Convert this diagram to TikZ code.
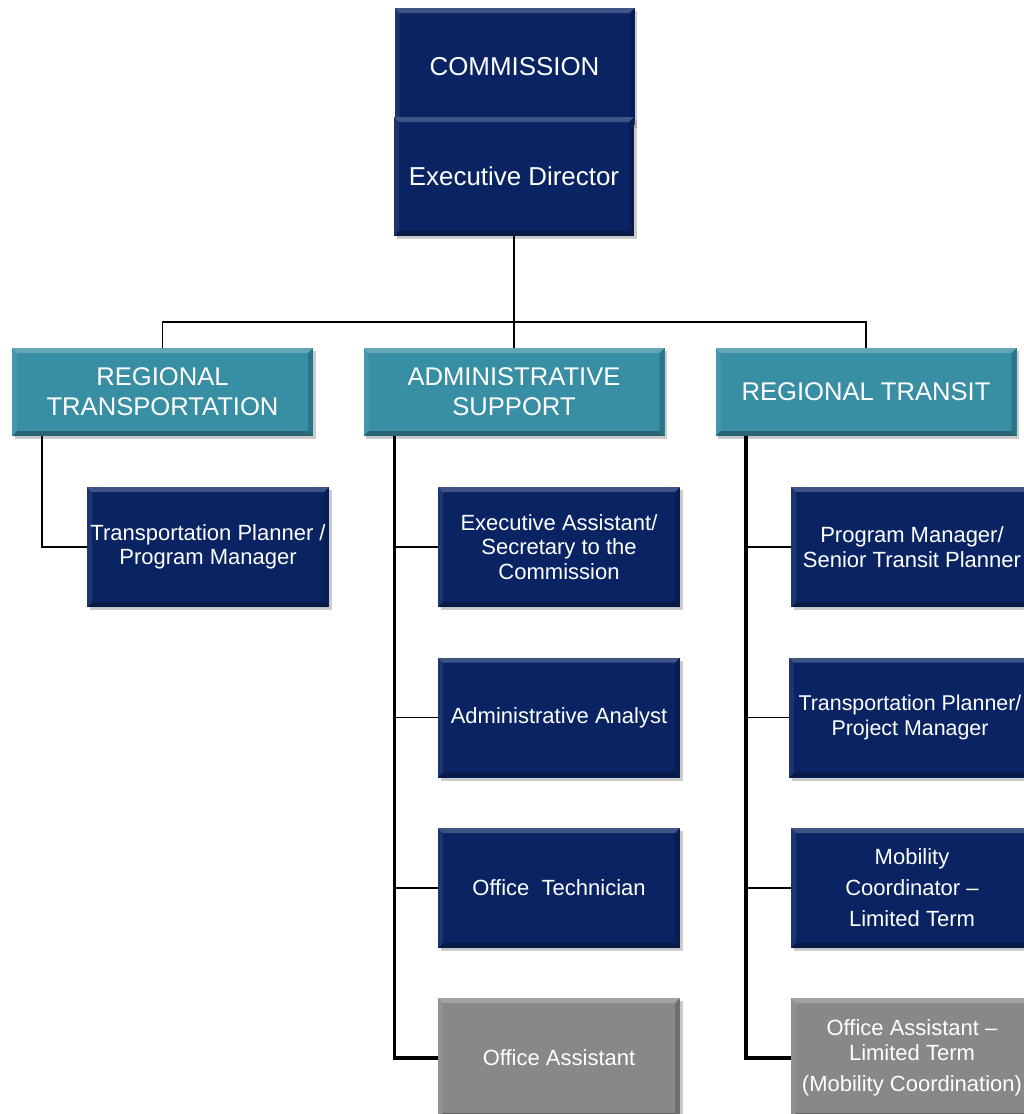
\documentclass[tikz,border=0pt]{standalone}
\usepackage{fontspec}
\setmainfont{Liberation Sans}
\usetikzlibrary{shadows}
\definecolor{navy}{RGB}{10,36,99}
\definecolor{teal2}{RGB}{56,142,163}
\definecolor{grey2}{RGB}{136,136,136}
\tikzset{
  bevel/.style={path picture={
    \fill[white,opacity=.22] (path picture bounding box.north west) -- (path picture bounding box.north east)
      -- ([shift={(-5pt,-5pt)}]path picture bounding box.north east) -- ([shift={(5pt,-5pt)}]path picture bounding box.north west) -- cycle;
    \fill[white,opacity=.08] (path picture bounding box.north west) -- ([shift={(5pt,-5pt)}]path picture bounding box.north west)
      -- ([shift={(5pt,5pt)}]path picture bounding box.south west) -- (path picture bounding box.south west) -- cycle;
    \fill[black,opacity=.18] (path picture bounding box.north east) -- ([shift={(-5pt,-5pt)}]path picture bounding box.north east)
      -- ([shift={(-5pt,5pt)}]path picture bounding box.south east) -- (path picture bounding box.south east) -- cycle;
    \fill[black,opacity=.28] (path picture bounding box.south west) -- (path picture bounding box.south east)
      -- ([shift={(-5pt,5pt)}]path picture bounding box.south east) -- ([shift={(5pt,5pt)}]path picture bounding box.south west) -- cycle;
  }},
  box/.style={text=white, align=center, inner sep=0pt, bevel,
    drop shadow={shadow xshift=2.5pt, shadow yshift=-3pt, opacity=0.4}},
  topbox/.style={box, fill=navy, minimum width=240pt, font=\fontsize{25.9}{30}\selectfont},
  headbox/.style={box, fill=teal2, minimum width=301pt, minimum height=88pt, font=\fontsize{25.6}{30}\selectfont},
  staffbox/.style={box, fill=navy, minimum width=242pt, minimum height=120pt, font=\fontsize{22}{24.5}\selectfont},
  vacbox/.style={staffbox, fill=grey2},
  thinline/.style={line width=1.8pt, black},
  thickline/.style={line width=3.6pt, black},
}
\begin{document}
\begin{tikzpicture}[x=1pt, y=-1pt]
\path[use as bounding box, fill=white] (0,0) rectangle (1024,1114);

% top
\node[topbox, minimum height=117pt] (comm) at (514.5,66.5) {COMMISSION};
\node[topbox, minimum height=119pt] (exec) at (514,176.5) {Executive Director};

% heads
\node[headbox] (rt) at (162.5,392) {REGIONAL\\TRANSPORTATION};
\node[headbox] (as) at (514,392) {ADMINISTRATIVE\\SUPPORT};
\node[headbox] (rtr) at (866,392) {REGIONAL TRANSIT};

% tree from executive director
\coordinate (bus) at (514,322);
\draw[thinline] (exec.south) -- (bus);
\draw[thinline] (rt.north) |- (bus) -| (rtr.north);
\draw[thinline] (bus) -- (as.north);

% regional transportation
\node[staffbox] (tp) at (208,547) {Transportation Planner /\\Program Manager};
\draw[thinline] ([xshift=30pt]rt.south west) |- (tp.west);

% administrative support
\node[staffbox] (ea) at (559,547) {Executive Assistant/\\Secretary to the\\Commission};
\node[staffbox] (aa) at (559,717.5) {Administrative Analyst};
\node[staffbox] (ot) at (559,888) {Office~ Technician};
\node[vacbox] (oa) at (559,1058) {Office Assistant};
\coordinate (asspine) at ([xshift=31pt]as.south west);
\draw[thickline] (asspine) |- (oa.west);
\draw[thinline] (ea.west) -- (ea.west -| asspine);
\draw[thinline] (aa.west) -- (aa.west -| asspine);
\draw[thinline] (ot.west) -- (ot.west -| asspine);

% regional transit
\node[staffbox] (pm) at (912,547) {Program Manager/\\Senior Transit Planner};
\node[staffbox, font=\fontsize{21.4}{24.5}\selectfont] (tpp) at (910,717.5) {Transportation Planner/\\Project Manager};
\node[staffbox, font=\fontsize{22}{31}\selectfont] (mc) at (912,888) {Mobility\\Coordinator –\\Limited Term};
\node[vacbox] (oalt) at (912,1058) {Office Assistant –\\Limited Term\\[6.5pt](Mobility Coordination)};
\coordinate (trspine) at ([xshift=30.5pt]rtr.south west);
\draw[thickline] (trspine) |- (oalt.west);
\draw[thinline] (pm.west) -- (pm.west -| trspine);
\draw[thinline] (tpp.west) -- (tpp.west -| trspine);
\draw[thinline] (mc.west) -- (mc.west -| trspine);
\end{tikzpicture}
\end{document}
